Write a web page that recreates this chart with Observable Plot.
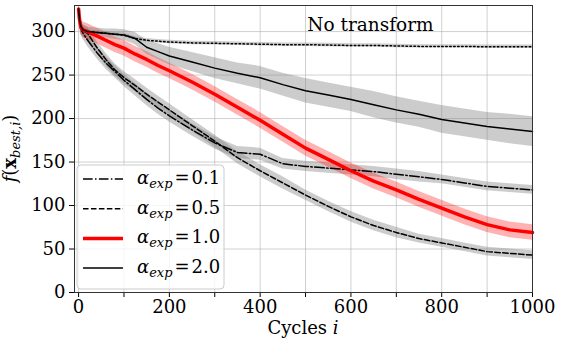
<!DOCTYPE html>
<html>
<head>
<meta charset="utf-8">
<script src="https://cdn.jsdelivr.net/npm/d3@7"></script>
<script src="https://cdn.jsdelivr.net/npm/@observablehq/plot@0.6"></script>
<style>
  html, body { margin: 0; padding: 0; background: #fff; }
  svg text { font-family: "DejaVu Serif", serif !important; }
</style>
</head>
<body>
<div id="chart"></div>
<script>
const cycles = [0,2,5,10,20,40,60,80,100,125,150,175,200,250,300,350,400,450,500,550,600,650,700,750,800,850,900,950,1000];

// unlabelled dotted series (no transform reference)
const dottedMean = [326,314,306,302,300,299,298,297,296,292,290,289,288,287,286.5,286,285.5,285,285,284.5,284,284,283.5,283,283,283,282.5,282.5,282.5];
const dottedBand = [3,3,3,2.5,2,2,2,2,2,2,2,2,2,2,2,2,2,2,2,2,2,2,2,2,2,2,2,2,2];

const a01Mean = [326,312,303,298,290,276,264,254,244,233,222,212,203,187,172,161,159,148,145,143,141,139,136,133,130,126,122,120,118];
const a01Band = [4,6,7,7,7,7,7,7,7,7,7,7,7,7,7,7,7,6,6,6,6,6,6,6,5,5,5,5,5];

const a05Mean = [326,313,305,301,298,282,268,256,247,238,228,219,210,192,174,155,140,126,112,99,87,77,69,62,57,52,47,45,43];
const a05Band = [4,6,7,7,7,7,7,7,7,7,7,7,7,7,7,7,7,7,6,6,6,6,6,5,5,5,5,5,5];

const a10Mean = [326,314,305,302,300,295,290,285,281,274,268,261,255,242,228,213,198,182,166,153,140,128,118,107,97,87,78,72,69];
const a10Band = [4,6,8,9,9,9,9,9,9,9,9,9,9,9,9,9,9,9,9,9,9,9,9,9,9,9,9,9,9];

const a20Mean = [326,314,306,302,300,299,298,297,296,292,282,277,272,265,258,252,247,239,232,227,222,216,210,205,199,195,191,188,185];
const a20Band = [4,5,5,5,5,5,5,6,6,7,8,9,10,11,12,12,13,13,14,14,14,15,15,15,16,16,16,17,17];

const legendLabels = ["0.1", "0.5", "1.0", "2.0"];
const xTicks = [0,100,200,300,400,500,600,700,800,900,1000];
const yTicks = [0,50,100,150,200,250,300];

function rows(mean, band) {
  return cycles.map((c, i) => ({x: c, y: mean[i], lo: mean[i] - band[i], hi: mean[i] + band[i]}));
}
const sDot = rows(dottedMean, dottedBand);
const s01 = rows(a01Mean, a01Band);
const s05 = rows(a05Mean, a05Band);
const s10 = rows(a10Mean, a10Band);
const s20 = rows(a20Mean, a20Band);

const styles = [
  {data: s01, stroke: "black", width: 1.5, dash: "9.6,2.4,1.5,2.4", fill: "gray", op: 0.4},
  {data: s05, stroke: "black", width: 1.5, dash: "5.55,2.4", fill: "gray", op: 0.4},
  {data: s10, stroke: "red", width: 3.5, dash: null, fill: "red", op: 0.3},
  {data: s20, stroke: "black", width: 1.5, dash: null, fill: "gray", op: 0.4}
];

const ser = "DejaVu Serif";

const marks = [
  Plot.gridX(xTicks, {stroke: "#b0b0b0", strokeOpacity: 0.6}),
  Plot.gridY(yTicks, {stroke: "#b0b0b0", strokeOpacity: 0.6}),
  Plot.areaY(sDot, {x: "x", y1: "lo", y2: "hi", fill: "gray", fillOpacity: 0.4})
];
for (const s of styles) marks.push(Plot.areaY(s.data, {x: "x", y1: "lo", y2: "hi", fill: s.fill, fillOpacity: s.op}));
marks.push(Plot.lineY(sDot, {x: "x", y: "y", stroke: "black", strokeWidth: 1.5, strokeDasharray: "1.5,2.475"}));
for (const s of styles) marks.push(Plot.lineY(s.data, {x: "x", y: "y", stroke: s.stroke, strokeWidth: s.width, strokeDasharray: s.dash}));
marks.push(
  Plot.axisX({ticks: xTicks, tickSize: 5, tickPadding: 3, tickFormat: d => d % 200 === 0 ? String(d) : "", label: null, fontFamily: ser}),
  Plot.axisY({ticks: yTicks, tickSize: 5, tickPadding: 4, tickFormat: d => String(d), label: null, fontFamily: ser}),
  Plot.frame({stroke: "#333", strokeWidth: 1})
);

const chart = Plot.plot({
  width: 562,
  height: 346,
  marginLeft: 74,
  marginRight: 30,
  marginTop: 5,
  marginBottom: 54,
  x: {domain: [-9, 1000]},
  y: {domain: [0, 330]},
  style: {fontFamily: ser, fontSize: "18px", color: "black", background: "white"},
  marks
});
document.getElementById("chart").appendChild(chart);

const xs = chart.scale("x"), ys = chart.scale("y");
const svg = d3.select(chart);

// Annotation
svg.append("text").attr("x", xs.apply(505)).attr("y", 31).attr("text-anchor", "start")
  .attr("font-family", ser).attr("font-size", 18.5).attr("fill", "black").text("No transform");

// x label
const xl = svg.append("text").attr("x", (xs.apply(-9) + xs.apply(1000)) / 2).attr("y", 334)
  .attr("text-anchor", "middle").attr("font-family", ser).attr("font-size", 18).attr("fill", "black");
xl.append("tspan").text("Cycles ");
xl.append("tspan").attr("font-style", "italic").text("i");

// y label
const yl = svg.append("text").attr("transform", `translate(16,${(ys.apply(0) + ys.apply(330)) / 2}) rotate(-90)`)
  .attr("text-anchor", "middle").attr("font-family", ser).attr("font-size", 18).attr("fill", "black");
yl.append("tspan").attr("font-style", "italic").text("f");
yl.append("tspan").text("(");
yl.append("tspan").attr("font-weight", "bold").text("x");
yl.append("tspan").attr("font-style", "italic").attr("font-size", 13).attr("dy", 4).text("best,i");
yl.append("tspan").attr("dy", -4).text(")");

// Legend
const lg = svg.append("g").attr("text-anchor", "start");
lg.append("rect").attr("x", 77).attr("y", 165).attr("width", 147).attr("height", 124).attr("rx", 4)
  .attr("fill", "white").attr("fill-opacity", 0.8).attr("stroke", "#cccccc").attr("stroke-width", 1);
styles.forEach((s, i) => {
  const yy = 179 + i * 29.7;
  lg.append("line").attr("x1", 83).attr("x2", 123).attr("y1", yy).attr("y2", yy)
    .attr("stroke", s.stroke).attr("stroke-width", s.width).attr("stroke-dasharray", s.dash);
  const t = lg.append("text").attr("x", 137).attr("y", yy + 5).attr("text-anchor", "start")
    .attr("font-family", ser).attr("font-size", 18).attr("fill", "black");
  t.append("tspan").attr("font-style", "italic").text("α");
  t.append("tspan").attr("font-style", "italic").attr("font-size", 13).attr("dy", 4).text("exp");
  t.append("tspan").attr("dy", -4).attr("dx", 2).text("=");
  t.append("tspan").attr("dx", 2).text(legendLabels[i]);
});
</script>
</body>
</html>
